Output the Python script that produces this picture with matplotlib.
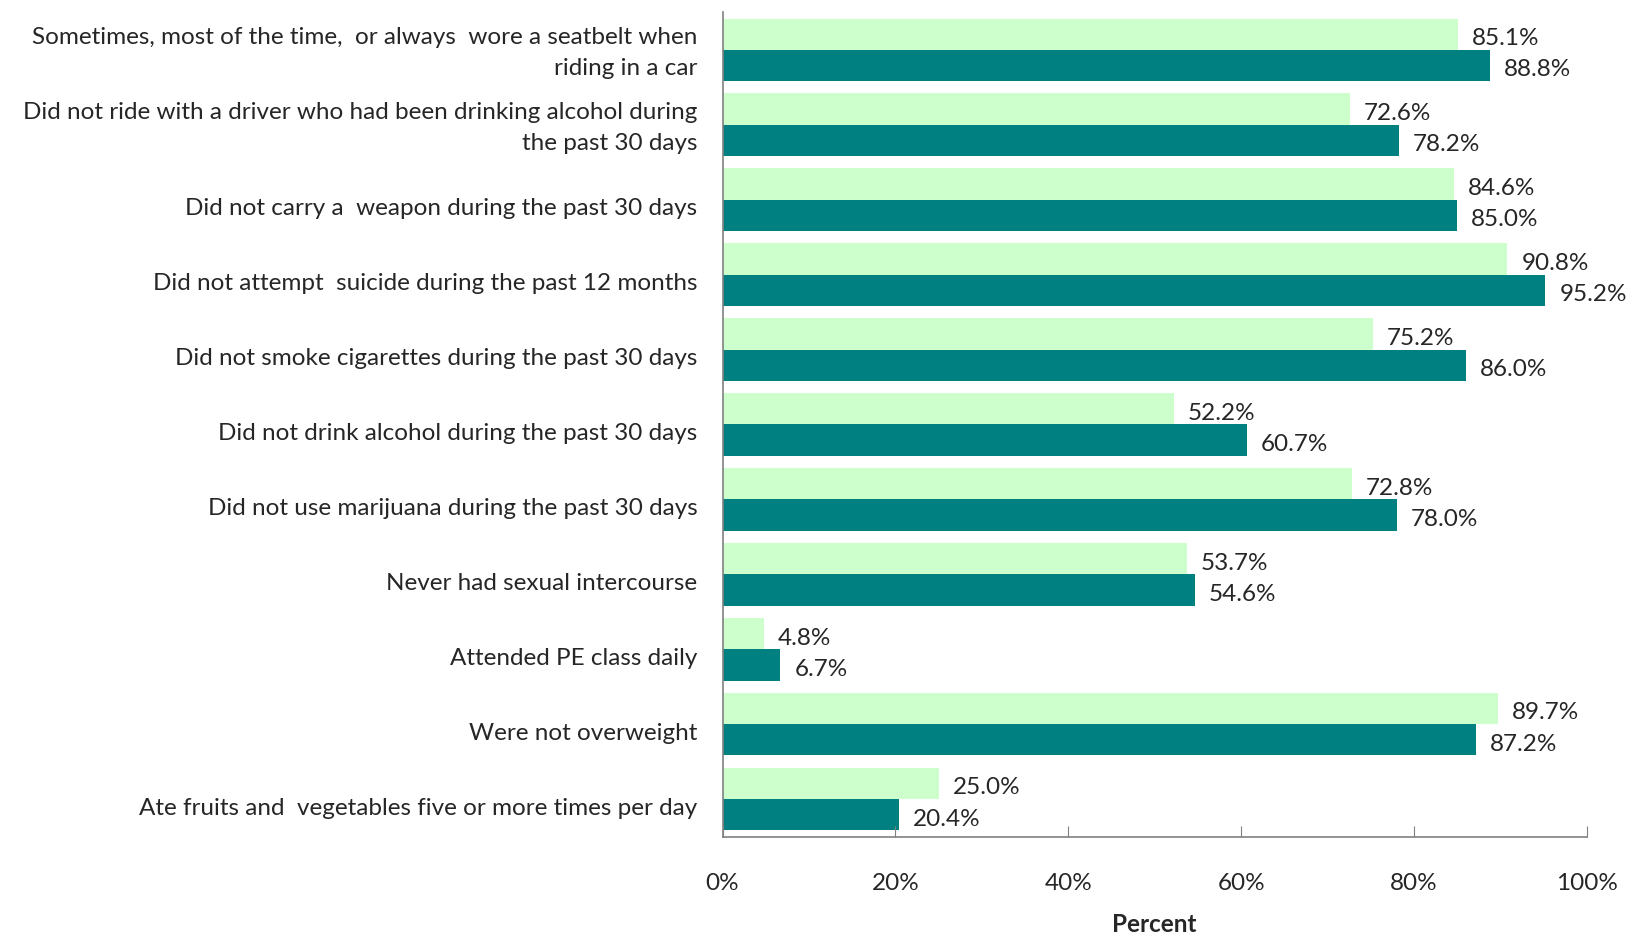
import matplotlib
matplotlib.use("Agg")
import matplotlib.pyplot as plt
import numpy as np

# Health-behaviour indicators, two survey years
categories = [
    "Sometimes, most of the time,  or always  wore a seatbelt when\nriding in a car",
    "Did not ride with a driver who had been drinking alcohol during\nthe past 30 days",
    "Did not carry a  weapon during the past 30 days",
    "Did not attempt  suicide during the past 12 months",
    "Did not smoke cigarettes during the past 30 days",
    "Did not drink alcohol during the past 30 days",
    "Did not use marijuana during the past 30 days",
    "Never had sexual intercourse",
    "Attended PE class daily",
    "Were not overweight",
    "Ate fruits and  vegetables five or more times per day",
]
series_a = [85.1, 72.6, 84.6, 90.8, 75.2, 52.2, 72.8, 53.7, 4.8, 89.7, 25.0]
series_b = [88.8, 78.2, 85.0, 95.2, 86.0, 60.7, 78.0, 54.6, 6.7, 87.2, 20.4]
x_ticks = [0, 20, 40, 60, 80, 100]
x_ticklabels = ["0%", "20%", "40%", "60%", "80%", "100%"]

plt.rcParams["font.family"] = ["Lato", "DejaVu Sans"]

fig = plt.figure(figsize=(16.31, 9.35), dpi=100)
ax = fig.add_axes([0.443, 0.105, 0.530, 0.882])

n = len(categories)
y = np.arange(n)
h = 0.415
light = "#CCFFCC"
dark = "#008080"
text_color = "#262626"
fs = 17.5

ax.barh(y - h / 2, series_a, height=h, color=light, edgecolor="none")
ax.barh(y + h / 2, series_b, height=h, color=dark, edgecolor="none")

for yi, a, b in zip(y, series_a, series_b):
    ax.annotate(f"{a:.1f}%", (a, yi - h / 2), xytext=(10, -3), textcoords="offset points",
                va="center", ha="left", fontsize=fs, color=text_color)
    ax.annotate(f"{b:.1f}%", (b, yi + h / 2), xytext=(10, -3), textcoords="offset points",
                va="center", ha="left", fontsize=fs, color=text_color)

# Category labels, right-aligned against the left spine
ylab_tr = ax.get_yaxis_transform()
for yi, label in zip(y, categories):
    two_lines = "\n" in label
    ax.annotate(label, (0, yi), xycoords=ylab_tr,
                xytext=(-18, -2.5 if two_lines else -6.5), textcoords="offset points",
                ha="right", va="center", multialignment="right",
                linespacing=1.6, fontsize=fs, color=text_color)

ax.set_xlim(0, 100)
ax.set_ylim(n - 0.5, -0.5)
ax.set_xticks(x_ticks)
ax.set_xticklabels(x_ticklabels, fontsize=fs, color=text_color)
ax.tick_params(axis="x", direction="in", length=8, color="#808080", pad=26)
ax.set_yticks([])
ax.set_xlabel("Percent", fontsize=fs, fontweight="bold", color=text_color, labelpad=14)

for side in ("top", "right"):
    ax.spines[side].set_visible(False)
for side in ("left", "bottom"):
    ax.spines[side].set_color("#808080")
    ax.spines[side].set_linewidth(1.2)

fig.savefig("out.png", dpi=100, facecolor="white")
